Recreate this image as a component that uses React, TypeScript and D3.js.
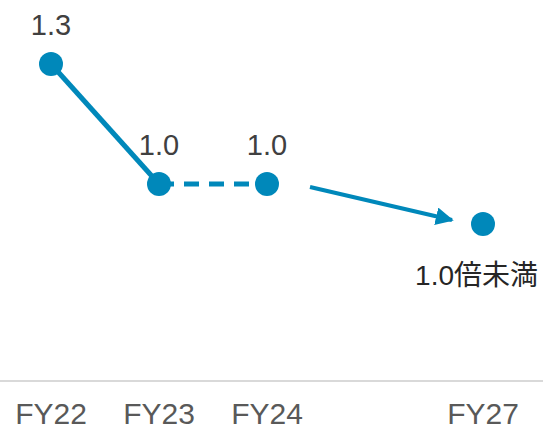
import React from "react";
import * as d3 from "d3";

const categories = ["FY22", "FY23", "FY24", "", "FY27"];
const pointCats = ["FY22", "FY23", "FY24", "FY27"];
const values = [1.3, 1.0, 1.0, 0.9];
const valueLabels = ["1.3", "1.0", "1.0", "1.0倍未満"];

const W = 543;
const H = 430;
const COLOR = "#0088BA";

export default function App() {
  const x = d3.scalePoint<string>().domain(categories).range([51, 483]);
  const y = d3.scaleLinear().domain([0.9, 1.3]).range([224, 64]);

  const pts = pointCats.map((c, i) => ({ c, v: values[i], px: x(c)!, py: y(values[i]) }));
  const line = d3.line<{ px: number; py: number }>().x((d) => d.px).y((d) => d.py);

  const p2 = pts[2];
  const p3 = pts[3];
  const ax1 = p2.px + 43, ay1 = p2.py + 3;
  const ax2 = p3.px - 31, ay2 = p3.py - 4;

  return (
    <svg width={W} height={H} style={{ position: "absolute", left: 0, top: 0 }} fontFamily="'Liberation Sans', Arial, sans-serif">
      <defs>
        <marker id="ah" viewBox="0 0 10 10" refX="9" refY="5" markerWidth="4.5" markerHeight="4.5" markerUnits="strokeWidth" orient="auto">
          <path d="M0,0 L10,5 L0,10 z" fill={COLOR} />
        </marker>
      </defs>
      <line x1={0} x2={W} y1={381} y2={381} stroke="#d9d9d9" strokeWidth={2} />
      {categories.map((c) =>
        c ? (
          <text key={c} x={x(c)} y={424} textAnchor="middle" fontSize={30} fill="#595959">
            {c}
          </text>
        ) : null
      )}
      <path d={line([pts[0], pts[1]]) || ""} stroke={COLOR} strokeWidth={5} fill="none" />
      <path d={line([pts[1], pts[2]]) || ""} stroke={COLOR} strokeWidth={5} fill="none" strokeDasharray="15 10" />
      <line x1={ax1} y1={ay1} x2={ax2} y2={ay2} stroke={COLOR} strokeWidth={4} markerEnd="url(#ah)" />
      {pts.map((p) => (
        <circle key={p.c} cx={p.px} cy={p.py} r={12} fill={COLOR} />
      ))}
      {pts.slice(0, 3).map((p, i) => (
        <text key={p.c} x={p.px} y={p.py - 29} textAnchor="middle" fontSize={29} fill="#404040">
          {valueLabels[i]}
        </text>
      ))}
      <text x={538} y={p3.py + 61} textAnchor="end" fontSize={28} fill="#262626" fontFamily="'Liberation Sans', 'Noto Sans CJK JP', sans-serif">
        {valueLabels[3]}
      </text>
    </svg>
  );
}
